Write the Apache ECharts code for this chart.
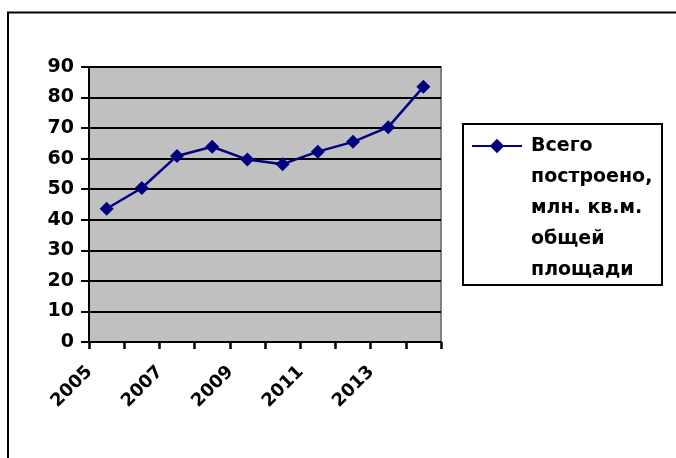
<!DOCTYPE html>
<html>
<head>
<meta charset="utf-8">
<script src="https://cdn.jsdelivr.net/npm/echarts@6/dist/echarts.min.js"></script>
<style>
html,body{margin:0;padding:0;background:#fff;}
#chart{width:676px;height:458px;}
</style>
</head>
<body>
<div id="chart"></div>
<script>
const years = ['2005','2006','2007','2008','2009','2010','2011','2012','2013','2014'];
const built = [43.6, 50.4, 60.9, 63.9, 59.7, 58.2, 62.3, 65.5, 70.3, 83.5];
const seriesName = 'Всего построено, млн. кв.м. общей площади';
const legendLines = ['Всего', 'построено,', 'млн. кв.м.', 'общей', 'площади'];
const yMin = 0, yMax = 90, yStep = 10;

const FONT = '"DejaVu Sans", "Noto Sans", sans-serif';
const chart = echarts.init(document.getElementById('chart'), null, {renderer: 'canvas'});
const LH = 31;
const pad = ['', '', '', ''];
chart.setOption({
  animation: false,
  backgroundColor: '#ffffff',
  grid: {
    left: 89, top: 67, right: 235, bottom: 116,
    show: true, backgroundColor: '#C0C0C0', borderColor: '#808080', borderWidth: 2
  },
  xAxis: {
    type: 'category',
    data: years,
    boundaryGap: true,
    axisLine: {lineStyle: {color: '#000', width: 2}},
    axisTick: {show: true, interval: 0, length: 7, lineStyle: {color: '#000', width: 2.5}},
    axisLabel: {
      interval: 1, rotate: 45, margin: 10, color: '#000',
      fontFamily: FONT, fontWeight: 'bold', fontSize: 18,
      padding: [0, 24, 0, 0]
    },
    splitLine: {show: false}
  },
  yAxis: {
    type: 'value',
    min: yMin, max: yMax, interval: yStep,
    axisLine: {show: true, lineStyle: {color: '#000', width: 2}},
    axisTick: {show: true, length: 8, lineStyle: {color: '#000', width: 2}},
    axisLabel: {margin: 15, color: '#000', fontFamily: FONT, fontWeight: 'bold', fontSize: 19},
    splitLine: {show: true, lineStyle: {color: '#000', width: 2}}
  },
  legend: {
    show: true,
    selectedMode: false,
    orient: 'vertical',
    left: 471,
    top: 146 - (9 * LH) / 2,
    padding: 0,
    itemWidth: 50,
    itemHeight: 18,
    formatter: function () { return pad.concat(legendLines).join('\n'); },
    textStyle: {
      color: '#000', fontFamily: FONT, fontWeight: 'bold', fontSize: 19,
      lineHeight: LH, padding: [0, 0, 0, 4]
    },
    data: [seriesName]
  },
  graphic: [
    {type: 'polyline', shape: {points: [[8, 458], [8, 12.5], [676, 12.5]]},
     style: {stroke: '#000', lineWidth: 2, fill: null}, silent: true},
    {type: 'rect', shape: {x: 463, y: 124, width: 199, height: 161},
     style: {stroke: '#000', lineWidth: 2, fill: null}, silent: true}
  ],
  series: [{
    name: seriesName,
    type: 'line',
    data: built,
    symbol: 'diamond',
    symbolSize: 14,
    lineStyle: {color: '#000080', width: 2.5},
    itemStyle: {color: '#000080'},
    z: 5
  }]
});
</script>
</body>
</html>
